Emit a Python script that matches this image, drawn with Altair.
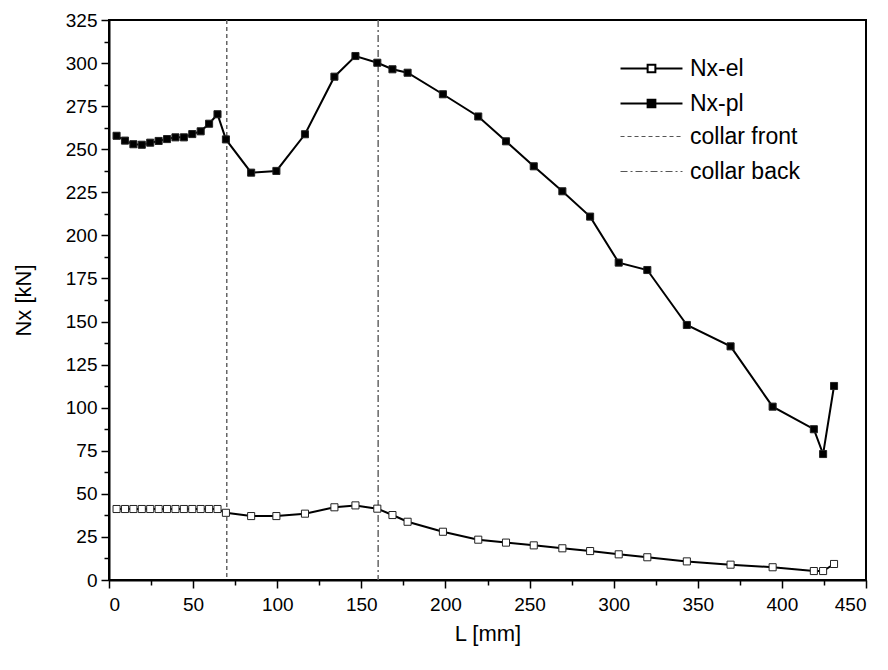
import altair as alt
import pandas as pd

# ---- data ----
L_mm = [4.5, 9.5, 14.5, 19.5, 24.5, 29.5, 34.5, 39.5, 44.5, 49.5, 54.5, 59.5, 64.5, 69.5,
        84.5, 99.5, 116.5, 134, 146.5, 159.5, 168.5, 177.5, 198.5, 219.5, 236, 252.5,
        269.5, 286, 303, 320, 343.5, 369.5, 394.5, 419, 424.5, 431]
nx_el = [41.2, 41.2, 41.2, 41.2, 41.2, 41.2, 41.2, 41.2, 41.2, 41.2, 41.2, 41.2, 41.2, 39.0,
         37.1, 37.1, 38.5, 42.2, 43.3, 41.4, 37.7, 33.8, 28.0, 23.4, 21.7, 20.1,
         18.4, 16.8, 14.9, 13.2, 10.8, 8.9, 7.4, 5.2, 5.2, 9.3]
nx_pl = [257.8, 255.0, 252.9, 252.6, 253.8, 254.8, 255.9, 256.9, 256.9, 258.8, 260.4, 264.8, 270.3, 255.7,
         236.4, 237.4, 258.7, 292.1, 304.1, 300.2, 296.4, 294.4, 281.9, 269.0, 254.6, 240.1,
         225.6, 210.9, 184.2, 179.9, 148.0, 135.6, 100.6, 87.5, 73.1, 112.6]
series_names = ["Nx-el", "Nx-pl"]
collar_names = ["collar front", "collar back"]
collar_L = [70, 160]
x_major = [0, 50, 100, 150, 200, 250, 300, 350, 400, 450]
x_minor = [25, 75, 125, 175, 225, 275, 325, 375, 425]
y_major = [0, 25, 50, 75, 100, 125, 150, 175, 200, 225, 250, 275, 300, 325]
y_minor = [12.5, 37.5, 62.5, 87.5, 112.5, 137.5, 162.5, 187.5, 212.5, 237.5, 262.5, 287.5, 312.5]

n = len(L_mm)
df = pd.DataFrame({
    "L": L_mm * 2,
    "N": nx_el + nx_pl,
    "series": [series_names[0]] * n + [series_names[1]] * n,
})
rules_df = pd.DataFrame({"L": collar_L, "name": collar_names})

FONT = "Liberation Sans"
xs = alt.Scale(domain=[0, 450], nice=False, zero=False)
ys = alt.Scale(domain=[0, 325], nice=False, zero=False)

x_axis = alt.Axis(values=x_major, title="L [mm]", tickSize=8, labelPadding=7,
                  titlePadding=9, orient="bottom", format="d")
y_axis = alt.Axis(values=y_major, title="Nx [kN]", tickSize=8, labelPadding=4,
                  titlePadding=30, orient="left", format="d")

lines = alt.Chart(df).mark_line(color="black", strokeWidth=2).encode(
    x=alt.X("L:Q", scale=xs, axis=x_axis),
    y=alt.Y("N:Q", scale=ys, axis=y_axis),
    detail="series:N",
)

SQ_PATH = "M-4,0H-0.5M0.5,0H4M-0.5,-0.5H0.5V0.5H-0.5Z"
LINE_PATH = "M-4,0H4"

rules = alt.Chart(rules_df).mark_rule(color="#666666", strokeWidth=1.5).encode(
    x=alt.X("L:Q", scale=xs, axis=None),
    strokeDash=alt.StrokeDash(
        "name:N",
        scale=alt.Scale(domain=collar_names, range=[[4, 3], [7, 3, 2, 3]]),
        legend=alt.Legend(
            title=None, orient="none", legendX=531, legendY=105,
            symbolType=LINE_PATH, symbolSize=240, symbolStrokeColor="#555555",
            symbolStrokeWidth=1.2, labelFont=FONT, labelFontSize=23, labelColor="black",
            labelOffset=27, rowPadding=11, padding=0,
        ),
    ),
)

points = alt.Chart(df).mark_point(shape="square", size=50, filled=True,
                                  stroke="#222222", strokeWidth=1, opacity=1).encode(
    x=alt.X("L:Q", scale=xs, axis=None),
    y=alt.Y("N:Q", scale=ys, axis=None),
    fill=alt.Fill(
        "series:N",
        scale=alt.Scale(domain=series_names, range=["white", "black"]),
        legend=alt.Legend(
            title=None, orient="none", legendX=531, legendY=37,
            symbolType=SQ_PATH, symbolSize=240, symbolStrokeColor="black",
            symbolStrokeWidth=2, labelFont=FONT, labelFontSize=23, labelColor="black",
            labelOffset=27, rowPadding=11, padding=0,
        ),
    ),
)

minor = alt.Chart(df).mark_point(opacity=0).encode(
    x=alt.X("L:Q", scale=xs, axis=alt.Axis(values=x_minor, labels=False, tickSize=5,
                                           domain=False, title=None, orient="bottom")),
    y=alt.Y("N:Q", scale=ys, axis=alt.Axis(values=y_minor, labels=False, tickSize=5,
                                           domain=False, title=None, orient="left")),
)

chart = alt.layer(lines, rules, points, minor).resolve_axis(
    x="independent", y="independent"
).properties(
    width=757, height=560,
    padding={"left": 109, "top": 20, "right": 22, "bottom": 90},
    autosize=alt.AutoSizeParams(type="none"),
    background="white",
).configure_axis(
    domainColor="black", domainWidth=2, tickColor="black", tickWidth=1.5,
    labelFont=FONT, labelFontSize=19, labelColor="black",
    titleFont=FONT, titleFontSize=22, titleFontWeight="normal", titleColor="black",
    grid=False,
).configure_view(stroke="black", strokeWidth=2)

chart.save("out.html", embed_options={"renderer": "svg", "actions": False})
